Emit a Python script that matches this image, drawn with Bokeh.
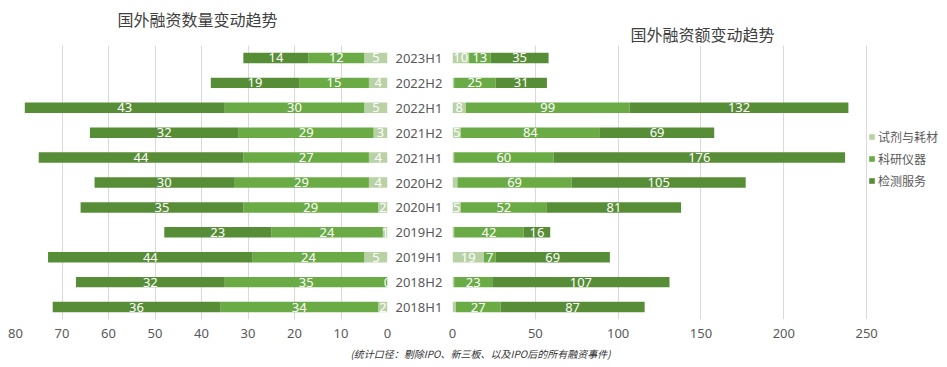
from bokeh.plotting import figure
from bokeh.models import FactorRange, Range1d, FixedTicker, ColumnDataSource, Legend, LegendItem, Label
from bokeh.layouts import column, row
from bokeh.core.properties import value
from bokeh.embed import file_html
from bokeh.resources import INLINE

# ---------------- data ----------------
periods = ["2018H1", "2018H2", "2019H1", "2019H2", "2020H1", "2020H2",
           "2021H1", "2021H2", "2022H1", "2022H2", "2023H1"]
series_names = ["试剂与耗材", "科研仪器", "检测服务"]

# 国外融资数量 (number of deals)
count_reagent = [2, 0, 5, 1, 2, 4, 4, 3, 5, 4, 5]
count_instr = [34, 35, 24, 24, 29, 29, 27, 29, 30, 15, 12]
count_test = [36, 32, 44, 23, 35, 30, 44, 32, 43, 19, 14]

# 国外融资额 (amount)
amt_reagent = [2, 1, 19, 1, 5, 3, 1, 5, 8, 1, 10]
amt_instr = [27, 23, 7, 42, 52, 69, 60, 84, 99, 25, 13]
amt_test = [87, 107, 69, 16, 81, 105, 176, 69, 132, 31, 35]

left_ticks = [80, 70, 60, 50, 40, 30, 20, 10, 0]
right_ticks = [0, 50, 100, 150, 200, 250]

title_left = "国外融资数量变动趋势"
title_right = "国外融资额变动趋势"
footnote = "(统计口径：剔除IPO、新三板、以及IPO后的所有融资事件)"

colors = ["#b8d2a6", "#6aab45", "#578d36"]
GRID = "#d9d9d9"
TXT = "#595959"
FONT = "Noto Sans"
CJK = "Noto Sans CJK SC"


def label_source(cols, min_first=None):
    xs, ys, texts = [], [], []
    for i, per in enumerate(periods):
        start = 0
        for k, col in enumerate(cols):
            v = col[i]
            show = True
            if k == 0 and min_first is not None and v < min_first:
                show = False
            if show:
                xs.append(start + v / 2)
                ys.append(per)
                texts.append(str(v))
            start += v
    return ColumnDataSource(dict(x=xs, y=ys, text=texts))


def style(p):
    p.outline_line_color = None
    p.xgrid.grid_line_color = GRID
    p.ygrid.grid_line_color = None
    p.xaxis.axis_line_color = None
    p.xaxis.major_tick_line_color = None
    p.xaxis.major_tick_out = 0
    p.xaxis.major_tick_in = 0
    p.xaxis.minor_tick_line_color = None
    p.xaxis.minor_tick_out = 0
    p.xaxis.major_label_standoff = 9
    p.xaxis.major_label_text_font = FONT
    p.xaxis.major_label_text_font_size = "13px"
    p.xaxis.major_label_text_color = TXT


def text_fig(w, h):
    f = figure(width=w, height=h, x_range=Range1d(0, 1), y_range=Range1d(0, 1),
               output_backend="svg", toolbar_location=None, min_border=0,
               x_axis_location=None, y_axis_location=None)
    f.outline_line_color = None
    f.grid.visible = False
    return f


H = 301
BOTTOM = 27

# ---------------- titles ----------------
p0 = text_fig(939, 45)
p0.add_layout(Label(x=197, y=27, x_units="screen", y_units="screen", text=title_left,
                    text_align="center", text_baseline="middle", text_font=CJK,
                    text_font_size="16px", text_color="#404040"))
p0.add_layout(Label(x=702, y=12, x_units="screen", y_units="screen", text=title_right,
                    text_align="center", text_baseline="middle", text_font=CJK,
                    text_font_size="16px", text_color="#404040"))

# ---------------- left chart ----------------
yr = FactorRange(*periods)
p1 = figure(width=447, height=H, y_range=yr, x_range=Range1d(80, 0),
            output_backend="svg", toolbar_location=None, y_axis_location="right",
            min_border_left=15, min_border_right=60, min_border_top=0, min_border_bottom=BOTTOM)
style(p1)
p1.xaxis.ticker = FixedTicker(ticks=left_ticks)
p1.yaxis.axis_line_color = None
p1.yaxis.major_tick_line_color = None
p1.yaxis.major_tick_out = 0
p1.yaxis.major_tick_in = 0
p1.yaxis.minor_tick_line_color = None
p1.yaxis.major_label_standoff = 8
p1.yaxis.major_label_text_font = FONT
p1.yaxis.major_label_text_font_size = "13px"
p1.yaxis.major_label_text_color = TXT

src1 = ColumnDataSource(dict(period=periods, a=count_reagent, b=count_instr, c=count_test))
p1.hbar_stack(["a", "b", "c"], y="period", height=0.42, color=colors, source=src1, line_width=0)
p1.text(x="x", y="y", text="text", source=label_source([count_reagent, count_instr, count_test]),
        text_color="white", text_align="center", text_baseline="middle",
        text_font=value(FONT), text_font_size="13px")

# ---------------- right chart ----------------
p2 = figure(width=492, height=H, y_range=yr, x_range=Range1d(0, 294),
            output_backend="svg", toolbar_location=None, y_axis_location=None,
            min_border_left=5, min_border_right=0, min_border_top=0, min_border_bottom=BOTTOM)
style(p2)
p2.xaxis.ticker = FixedTicker(ticks=right_ticks)

src2 = ColumnDataSource(dict(period=periods, a=amt_reagent, b=amt_instr, c=amt_test))
rs = p2.hbar_stack(["a", "b", "c"], y="period", height=0.42, color=colors, source=src2, line_width=0)
p2.text(x="x", y="y", text="text", source=label_source([amt_reagent, amt_instr, amt_test], min_first=4),
        text_color="white", text_align="center", text_baseline="middle",
        text_font=value(FONT), text_font_size="13px")

legend = Legend(items=[LegendItem(label=n, renderers=[r]) for n, r in zip(series_names, rs)],
                location=(416, 130), border_line_color=None, background_fill_alpha=0,
                label_text_font=CJK, label_text_font_size="12px", label_text_color=TXT,
                glyph_width=7, glyph_height=7, label_standoff=3, padding=0, spacing=5,
                label_height=16, margin=0)
p2.add_layout(legend)

# ---------------- footnote ----------------
p3 = text_fig(939, 18)
p3.add_layout(Label(x=480, y=11, x_units="screen", y_units="screen", text=footnote,
                    text_align="center", text_baseline="middle", text_font=CJK,
                    text_font_size="10px", text_font_style="italic", text_color="#333333"))

layout = column(p0, row(p1, p2), p3)
open("out.html", "w").write(file_html(layout, INLINE))
